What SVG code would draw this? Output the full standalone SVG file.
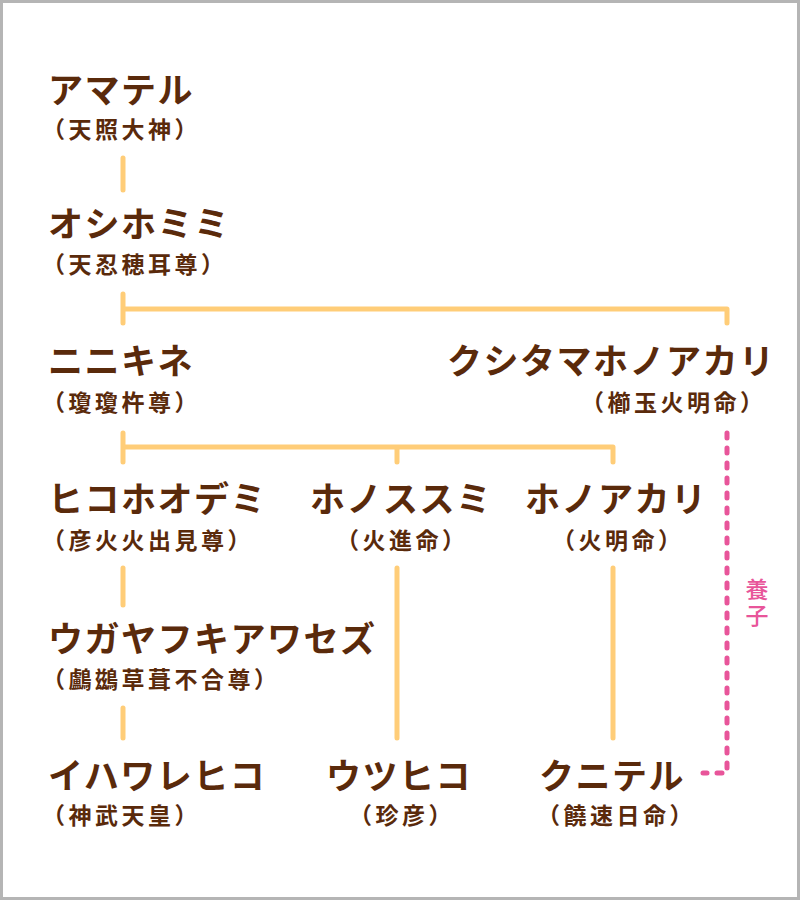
<svg xmlns="http://www.w3.org/2000/svg" width="800" height="900" viewBox="0 0 800 900">
<style>
.n{font-family:"Noto Sans CJK JP","Noto Sans",sans-serif;font-weight:700;font-size:35px;letter-spacing:1.5px;fill:#5a2a0b}
.s{font-family:"Noto Sans CJK JP","Noto Sans",sans-serif;font-weight:700;font-size:23px;letter-spacing:3.5px;fill:#5a2a0b}
.c{fill:none;stroke:#ffcd78;stroke-width:5;stroke-linecap:round;stroke-linejoin:round}
.a{fill:none;stroke:#e8559a;stroke-width:5;stroke-linecap:round;stroke-dasharray:5 10}
.l{font-family:"Noto Sans CJK JP","Noto Sans",sans-serif;font-weight:500;font-size:23px;letter-spacing:3px;fill:#e8559a;writing-mode:vertical-rl}
</style>
<rect x="1.5" y="1.5" width="797" height="897" fill="#ffffff" stroke="#b5b5b5" stroke-width="3"/>
<g id="connectors">
<path class="c" d="M123 158V190"/>
<path class="c" d="M123 294V323M123 309H727V323"/>
<path class="c" d="M123 433V462M123 447H613V462M397 447V462"/>
<path class="c" d="M123 568V605"/>
<path class="c" d="M123 708V738"/>
<path class="c" d="M397 568V738"/>
<path class="c" d="M613 568V738"/>
<path class="a" d="M727 433V773H703"/>
<text class="l" x="757" y="578">養子</text>
</g>
<g id="amateru"><text class="n" x="48" y="103">アマテル</text><text class="s" x="42" y="138">（天照大神）</text></g>
<g id="oshihomimi"><text class="n" x="48" y="237">オシホミミ</text><text class="s" x="42" y="273">（天忍穂耳尊）</text></g>
<g id="ninikine"><text class="n" x="48" y="374">ニニキネ</text><text class="s" x="42" y="411">（瓊瓊杵尊）</text></g>
<g id="kushitama"><text class="n" x="447" y="374">クシタマホノアカリ</text><text class="s" x="581" y="411">（櫛玉火明命）</text></g>
<g id="hikohohodemi"><text class="n" x="48" y="512">ヒコホオデミ</text><text class="s" x="42" y="549">（彦火火出見尊）</text></g>
<g id="honosusumi"><text class="n" x="310" y="512">ホノススミ</text><text class="s" x="336" y="549">（火進命）</text></g>
<g id="honoakari"><text class="n" x="525" y="512">ホノアカリ</text><text class="s" x="552" y="549">（火明命）</text></g>
<g id="ugaya"><text class="n" x="48" y="652">ウガヤフキアワセズ</text><text class="s" x="42" y="688">（鸕鷀草葺不合尊）</text></g>
<g id="iwarehiko"><text class="n" x="48" y="789">イハワレヒコ</text><text class="s" x="42" y="824">（神武天皇）</text></g>
<g id="utsuhiko"><text class="n" x="326" y="789">ウツヒコ</text><text class="s" x="349" y="824">（珍彦）</text></g>
<g id="kuniteru"><text class="n" x="539" y="789">クニテル</text><text class="s" x="537" y="824">（饒速日命）</text></g>
</svg>
